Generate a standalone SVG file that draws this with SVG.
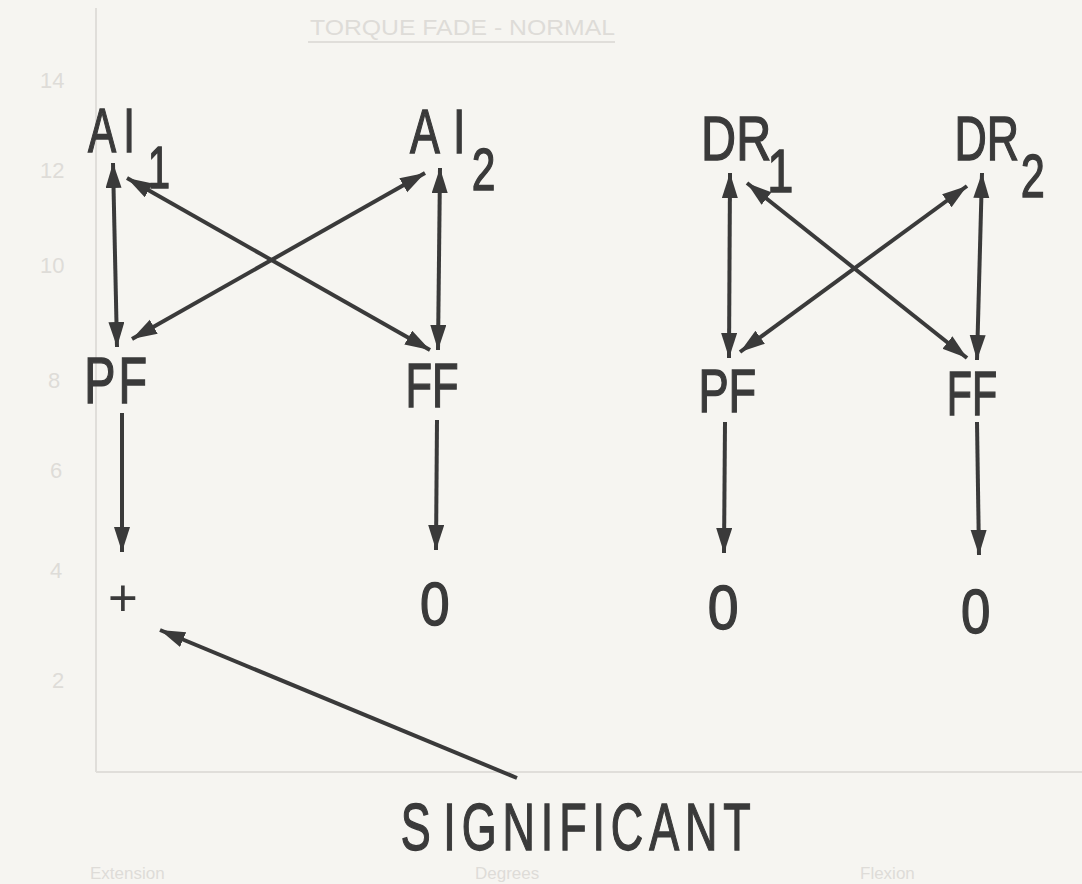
<svg xmlns="http://www.w3.org/2000/svg" width="1082" height="884" viewBox="0 0 1082 884">
  <style>
    .lbl { font-family: "Liberation Sans", Arial, sans-serif; font-weight: normal; fill: #3a3a3a; stroke: #3a3a3a; stroke-width: 1.4; }
    .thin { font-family: "Liberation Sans", Arial, sans-serif; font-weight: normal; fill: #3a3a3a; }
    .ghost { font-family: "Liberation Sans", Arial, sans-serif; fill: #dedcd8; }
    .gline { stroke: #e0deda; stroke-width: 2; fill: none; }
    .conn line { stroke: #3a3a3a; stroke-width: 4; fill: none; }
    .bi { marker-start: url(#ah); marker-end: url(#ah); }
    .uni { marker-end: url(#ah); }
  </style>
  <defs>
    <marker id="ah" markerUnits="userSpaceOnUse" markerWidth="26" markerHeight="18" refX="25" refY="8" orient="auto-start-reverse">
      <path d="M0,0 L25,8 L0,16 z" fill="#3a3a3a"/>
    </marker>
  </defs>
  <rect width="1082" height="884" fill="#f6f5f1"/>

  <g id="background-chart">
    <line class="gline" x1="96" y1="8" x2="96" y2="772"/>
    <line class="gline" x1="96" y1="772" x2="1082" y2="772"/>
    <text class="ghost" x="310" y="35" font-size="22" textLength="305" lengthAdjust="spacingAndGlyphs">TORQUE FADE - NORMAL</text>
    <line class="gline" x1="308" y1="42" x2="615" y2="42"/>
    <text class="ghost" x="40" y="88" font-size="22">14</text>
    <text class="ghost" x="40" y="178" font-size="22">12</text>
    <text class="ghost" x="40" y="273" font-size="22">10</text>
    <text class="ghost" x="48" y="388" font-size="22">8</text>
    <text class="ghost" x="50" y="478" font-size="22">6</text>
    <text class="ghost" x="50" y="578" font-size="22">4</text>
    <text class="ghost" x="52" y="688" font-size="22">2</text>
    <text class="ghost" x="90" y="879" font-size="17">Extension</text>
    <text class="ghost" x="475" y="879" font-size="17">Degrees</text>
    <text class="ghost" x="860" y="879" font-size="17">Flexion</text>
  </g>

  <g id="AI1">
    <text class="lbl" transform="translate(88,152) scale(0.67,1)" font-size="63">A<tspan dx="10.5">I</tspan><tspan dx="19" dy="36" font-size="60">1</tspan></text>
  </g>
  <g id="AI2">
    <text class="lbl" transform="translate(410,153) scale(0.71,1)" font-size="63">A<tspan dx="18.5">I</tspan><tspan dx="9" dy="37" font-size="60">2</tspan></text>
  </g>
  <g id="PF-left">
    <text class="lbl" transform="translate(84.3,403) scale(0.73,1)" font-size="64">P<tspan dx="4">F</tspan></text>
  </g>
  <g id="FF-left">
    <text class="lbl" transform="translate(405.5,407) scale(0.69,1)" font-size="63">FF</text>
  </g>
  <g id="plus">
    <text class="thin" x="123" y="616" font-size="51" text-anchor="middle">+</text>
  </g>
  <g id="zero-left">
    <text class="lbl" transform="translate(420,625) scale(0.86,1)" font-size="62">0</text>
  </g>

  <g id="DR1">
    <text class="lbl" transform="translate(701.1,160) scale(0.77,1)" font-size="63">DR<tspan dx="-5" dy="32" font-size="61">1</tspan></text>
  </g>
  <g id="DR2">
    <text class="lbl" transform="translate(954.4,160) scale(0.71,1)" font-size="63">DR<tspan dx="2.4" dy="37" font-size="61">2</tspan></text>
  </g>
  <g id="PF-right">
    <text class="lbl" transform="translate(698.4,412) scale(0.73,1)" font-size="62">PF</text>
  </g>
  <g id="FF-right">
    <text class="lbl" transform="translate(946.7,415) scale(0.655,1)" font-size="63">FF</text>
  </g>
  <g id="zero-right-1">
    <text class="lbl" transform="translate(707.8,629) scale(0.88,1)" font-size="63">0</text>
  </g>
  <g id="zero-right-2">
    <text class="lbl" transform="translate(960.9,633) scale(0.84,1)" font-size="63">0</text>
  </g>

  <g id="significant">
    <text class="lbl" transform="translate(400.8,850) scale(0.67,1)" font-size="67" letter-spacing="8.8">S<tspan dx="10">IGNIFICANT</tspan></text>
  </g>

  <g id="connectors" class="conn">
    <line class="bi" x1="113" y1="163" x2="117" y2="347"/>
    <line class="bi" x1="440" y1="168" x2="438" y2="350"/>
    <line class="bi" x1="127" y1="178" x2="430" y2="350"/>
    <line class="bi" x1="132" y1="339" x2="425" y2="173"/>
    <line class="uni" x1="122" y1="413" x2="122" y2="552"/>
    <line class="uni" x1="437" y1="420" x2="436" y2="550"/>
    <line class="uni" x1="517" y1="778" x2="160" y2="630"/>
    <line class="bi" x1="730" y1="173" x2="729" y2="358"/>
    <line class="bi" x1="982" y1="173" x2="977" y2="360"/>
    <line class="bi" x1="747" y1="183" x2="967" y2="358"/>
    <line class="bi" x1="740" y1="352" x2="967" y2="186"/>
    <line class="uni" x1="725" y1="422" x2="724" y2="553"/>
    <line class="uni" x1="977" y1="422" x2="979" y2="555"/>
  </g>
</svg>
